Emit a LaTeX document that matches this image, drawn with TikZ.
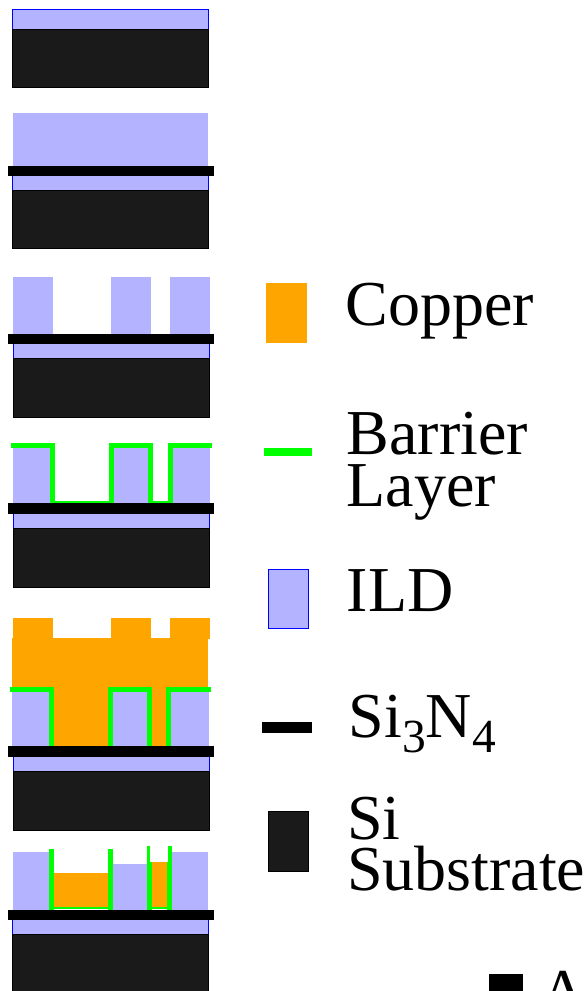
\documentclass[tikz,border=0pt]{standalone}
\usepackage{fontspec}
\setmainfont{Liberation Serif}
\definecolor{ild}{HTML}{B3B3FF}
\definecolor{si}{HTML}{1A1A1A}
\definecolor{cu}{HTML}{FFA500}
\definecolor{bar}{HTML}{00FF00}
\tikzset{
  ildbox/.style={fill=ild,draw=blue,line width=1pt},
  ildfill/.style={fill=ild},
  sibox/.style={fill=si,draw=black,line width=0.7pt},
  cufill/.style={fill=cu},
  nitride/.style={fill=black},
  barrier/.style={draw=bar,line width=5pt,miter limit=10},
  thinbarrier/.style={draw=bar,line width=2.2pt},
  label/.style={anchor=base west,inner sep=0pt,font=\fontsize{64}{64}\selectfont}
}
\newcommand{\subd}[1]{\raisebox{-15pt}{\fontsize{47.5}{47.5}\selectfont #1}}
\begin{document}
\begin{tikzpicture}[x=1pt,y=-1pt]
\useasboundingbox (0,0) rectangle (588,991);
\clip (0,0) rectangle (588,991);
% stack 1
\draw[ildbox] (12.5,9) rectangle (208,29);
\draw[sibox] (12.5,29) rectangle (208.3,87.8);
% stack 2
\fill[ildfill] (13,113) rectangle (207.5,166);
\draw[ildbox] (12.5,172) rectangle (208,190.5);
\draw[sibox] (12.5,190.5) rectangle (208.3,248.8);
\fill[nitride] (7.5,165.5) rectangle (213.5,176);
% stack 3
\fill[ildfill] (13,277) rectangle (53,334);
\fill[ildfill] (111,277) rectangle (151,334);
\fill[ildfill] (170,277) rectangle (210,334);
\draw[ildbox] (13.5,340) rectangle (209,358);
\draw[sibox] (13.5,358) rectangle (209.3,417);
\fill[nitride] (8,333.5) rectangle (214,344);
% stack 4
\fill[ildfill] (13,447) rectangle (53,503);
\fill[ildfill] (111,447) rectangle (151,503);
\fill[ildfill] (170,447) rectangle (210,503);
\draw[ildbox] (13.5,510) rectangle (209,528);
\draw[sibox] (13.5,528) rectangle (209.3,587);
\draw[thinbarrier] (52.5,501.7) -- (111,501.7);
\draw[thinbarrier] (150.5,501.7) -- (170,501.7);
\draw[barrier] (11,445) -- (52.5,445) -- (52.5,503);
\draw[barrier] (111,503) -- (111,445) -- (150.5,445) -- (150.5,503);
\draw[barrier] (170,503) -- (170,445) -- (212,445);
\fill[nitride] (8,503) rectangle (214,513.5);
% stack 5
\fill[cufill] (13,618) rectangle (53,639);
\fill[cufill] (111,618) rectangle (151,639);
\fill[cufill] (170,618) rectangle (210,639);
\fill[cufill] (12,638) rectangle (208,747);
\fill[ildfill] (12,690) rectangle (49.5,747);
\fill[ildfill] (112,690) rectangle (148,747);
\fill[ildfill] (170,690) rectangle (209,747);
\draw[ildbox] (13.5,753) rectangle (209,771);
\draw[sibox] (13.5,771) rectangle (209.3,830);
\draw[barrier] (10,689.7) -- (51.5,689.7) -- (51.5,747);
\draw[barrier] (110.5,747) -- (110.5,689.7) -- (149.5,689.7) -- (149.5,747);
\draw[barrier] (168.5,747) -- (168.5,689.7) -- (211,689.7);
\fill[nitride] (8,746) rectangle (214,757);
% stack 6
\fill[ildfill] (13,852) rectangle (50,910);
\fill[ildfill] (112,863.5) rectangle (148,910);
\fill[ildfill] (170,852) rectangle (207.5,910);
\fill[cufill] (53,873) rectangle (109,908);
\fill[cufill] (151,862) rectangle (167,908);
\draw[thinbarrier] (49,908) -- (113,908);
\draw[thinbarrier] (147,908) -- (171.7,908);
\draw[barrier] (51.5,848.5) -- (51.5,910);
\draw[barrier] (110.5,848.5) -- (110.5,910);
\draw[barrier] (149.5,862) -- (149.5,910);
\draw[barrier] (169,862) -- (169,910);
\draw[bar,fill=bar,line width=0pt] (147,846.5) rectangle (149.7,862);
\draw[bar,fill=bar,line width=0pt] (168.5,846.5) rectangle (171.7,862);
\draw[ildbox] (12.5,915) rectangle (208,934.5);
\draw[sibox] (12.5,934.5) rectangle (208.3,995);
\fill[nitride] (7.5,909.5) rectangle (213.5,920);
% legend swatches
\fill[cufill] (266,283) rectangle (307,343);
\fill[bar] (264,447.7) rectangle (311.5,455.5);
\draw[ildbox,line width=0.8pt] (268,569) rectangle (308,628);
\fill[nitride] (261.5,722) rectangle (311.5,733);
\draw[sibox] (268,811.5) rectangle (308,871);
\fill[nitride] (489,974) rectangle (523,995);
% legend labels
\node[label] (copper) at (345.5,325) {Copper};
\node[label] (barrierA) at (346.5,454) {Barrier};
\node[label] (barrierB) at (346.5,506.7) {Layer};
\node[label] (ildtext) at (346.5,611) {ILD};
\node[label] (nitridetext) at (348.5,737) {Si\subd{3}N\subd{4}};
\node[label] (siA) at (347,839) {Si};
\node[label] (siB) at (347,890) {Substrate};
\node[label] (cut) at (540,1013) {As};
\end{tikzpicture}
\end{document}
